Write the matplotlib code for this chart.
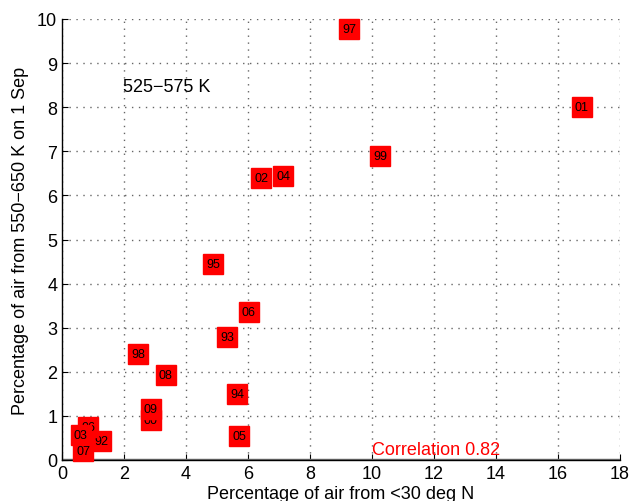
import matplotlib
matplotlib.use("Agg")
import matplotlib.pyplot as plt

plt.rcParams['font.family'] = ['Liberation Sans', 'DejaVu Sans']

years = ['92', '93', '94', '95', '96', '97', '98', '99', '00', '01',
         '02', '03', '04', '05', '06', '07', '08', '09']
x_vals = [1.26, 5.32, 5.65, 4.87, 0.84, 9.26, 2.45, 10.26, 2.87, 16.77,
          6.42, 0.61, 7.13, 5.71, 6.03, 0.68, 3.35, 2.87]
y_vals = [0.43, 2.79, 1.50, 4.44, 0.75, 9.77, 2.40, 6.89, 0.91, 8.00,
          6.39, 0.57, 6.44, 0.54, 3.36, 0.20, 1.93, 1.16]

xticks = [0, 2, 4, 6, 8, 10, 12, 14, 16, 18]
yticks = [0, 1, 2, 3, 4, 5, 6, 7, 8, 9, 10]

fig = plt.figure(figsize=(6.31, 5.02), dpi=100)
ax = fig.add_axes([62/631, 41/502, 558/631, 441/502])

for i, (lab, xv, yv) in enumerate(zip(years, x_vals, y_vals)):
    ax.plot([xv], [yv], marker='s', markersize=13.8, color='red',
            markeredgecolor='red', linestyle='none', zorder=3 + 2*i, clip_on=False)
    ax.text(xv, yv, lab, fontsize=9, color='black', ha='center', va='center',
            zorder=4 + 2*i)

ax.set_xlim(0, 18)
ax.set_ylim(0, 10)
ax.set_xticks(xticks)
ax.set_yticks(yticks)
ax.tick_params(direction='in', labelsize=13, length=4, top=False, right=False)
ax.grid(True, linestyle=(0, (1, 4)), color='0.4', linewidth=1.0)
ax.set_axisbelow(True)
for s in ['top', 'right']:
    ax.spines[s].set_visible(False)
ax.spines['left'].set_linewidth(1.0)
ax.spines['bottom'].set_linewidth(1.0)
ax.axhline(0, color='0.45', linewidth=2.5, zorder=1.5)

ax.set_xlabel('Percentage of air from <30 deg N', fontsize=13, labelpad=2)
ax.set_ylabel('Percentage of air from 550\u2212650 K on 1 Sep', fontsize=13, labelpad=6)

ax.text(1.97, 8.48, '525\u2212575 K', fontsize=13, ha='left', va='center')
ax.text(10.0, 0.23, 'Correlation 0.82', fontsize=13, color='red', ha='left', va='center',
        zorder=50)

fig.savefig('out.png', dpi=100)
